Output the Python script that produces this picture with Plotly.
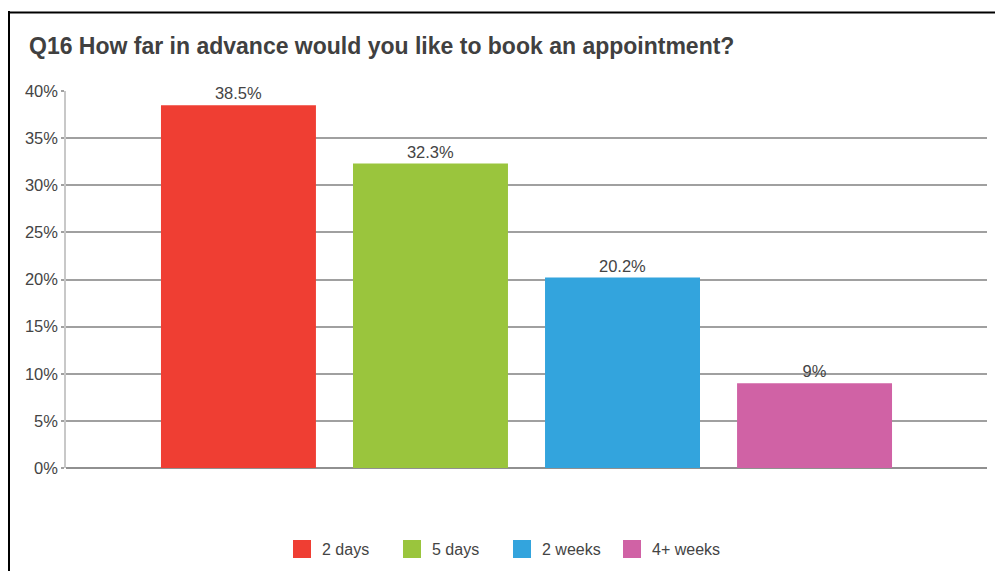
import plotly.graph_objects as go

categories = ["2 days", "5 days", "2 weeks", "4+ weeks"]
values = [38.5, 32.3, 20.2, 9]
labels = ["38.5%", "32.3%", "20.2%", "9%"]
colors = ["#EF3E33", "#9AC53D", "#33A4DD", "#D062A5"]
y_ticks = [0, 5, 10, 15, 20, 25, 30, 35, 40]
y_tick_labels = [f"{t}%" for t in y_ticks]

W, H = 995, 571
ml, mr, mt, mb = 66, 8, 91, 103
pw, ph = W - ml - mr, H - mt - mb
FONT = "Liberation Sans, Arial, sans-serif"

fig = go.Figure()
for cat, val, lab, col in zip(categories, values, labels, colors):
    fig.add_trace(go.Bar(
        x=["Q16"], y=[val], name=cat, marker=dict(color=col, line=dict(width=0)),
        text=[lab], textposition="outside", cliponaxis=False,
        textfont=dict(size=16.5, color="#444444", family=FONT),
        showlegend=False, hoverinfo="skip",
    ))
    fig.add_trace(go.Scatter(
        x=[None], y=[None], name=cat, mode="markers",
        marker=dict(symbol="square", size=16, color=col, line=dict(width=2, color=col)),
        showlegend=True, hoverinfo="skip",
    ))

def px_x(x):
    return (x - ml) / pw

def px_y(y):
    return (H - mb - y) / ph

shapes = [
    dict(type="line", xref="paper", yref="paper", x0=px_x(9), x1=px_x(9), y0=px_y(11), y1=px_y(H + 5),
         line=dict(color="#000000", width=2)),
    dict(type="line", xref="paper", yref="paper", x0=px_x(8), x1=px_x(W + 5), y0=px_y(12.5), y1=px_y(12.5),
         line=dict(color="#000000", width=2)),
]

fig.update_layout(
    width=W, height=H,
    margin=dict(l=ml, r=mr, t=mt, b=mb, pad=0),
    paper_bgcolor="white", plot_bgcolor="white",
    barmode="group", bargap=0.166, bargroupgap=0.193,
    font=dict(family=FONT, color="#444444", size=16),
    title=dict(text="<b>Q16 How far in advance would you like to book an appointment?</b>",
               x=29 / W, xanchor="left", xref="container",
               y=1 - 46 / H, yanchor="middle", yref="container",
               font=dict(size=23, color="#404040", family=FONT)),
    xaxis=dict(showticklabels=False, showgrid=False, zeroline=False, showline=False, ticks=""),
    yaxis=dict(range=[0, 40], tickvals=y_ticks, ticktext=y_tick_labels,
               showgrid=True, gridcolor="#A0A0A0", gridwidth=1.5,
               zeroline=True, zerolinecolor="#909090", zerolinewidth=1.5,
               showline=True, linecolor="#C8C8C8", linewidth=1.5,
               ticks="outside", ticklen=3, tickcolor="#A0A0A0", tickwidth=1.5,
               tickfont=dict(size=16.5, color="#444444"), fixedrange=True),
    legend=dict(orientation="h", xref="container", yref="container",
                x=282 / W, xanchor="left", y=1 - 549 / H, yanchor="middle",
                entrywidth=65, entrywidthmode="pixels",
                font=dict(size=16, color="#444444"), bgcolor="rgba(0,0,0,0)"),
    shapes=shapes,
)

fig.write_html("out.html", config={"displayModeBar": False},
               post_script="document.body.style.margin='0';document.body.style.overflow='hidden';")
